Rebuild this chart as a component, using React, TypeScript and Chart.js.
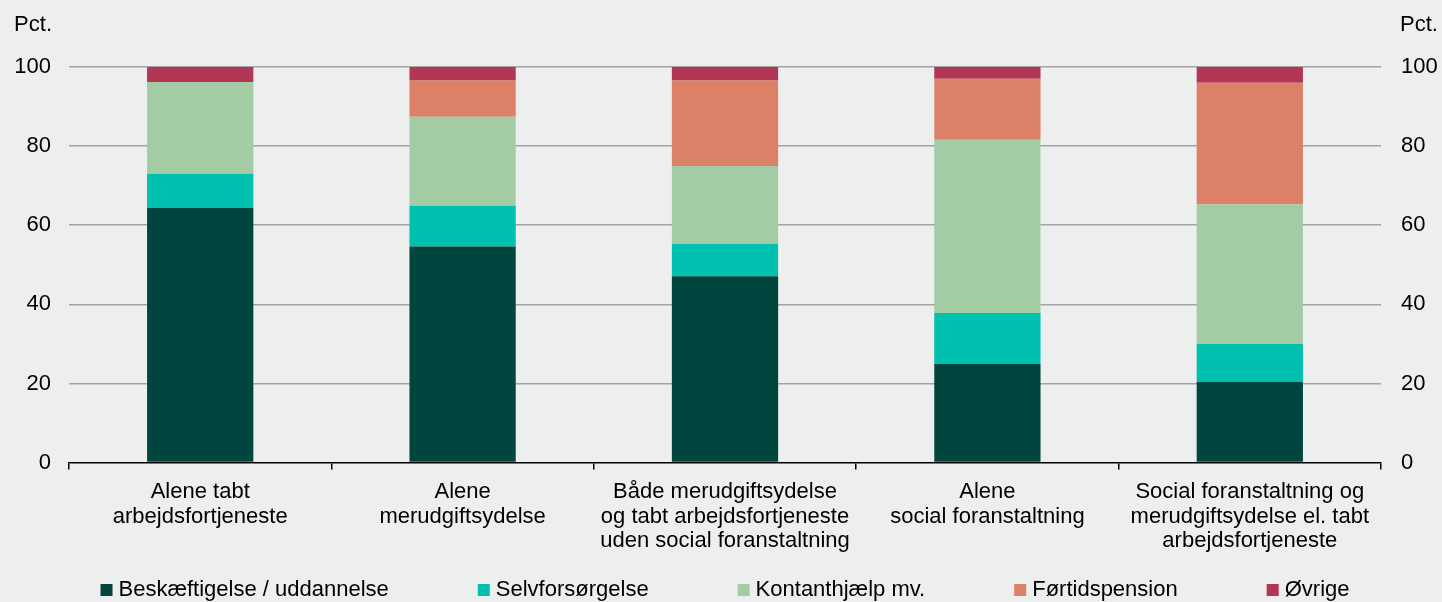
import React, { useEffect, useRef } from "react";
import { Chart, registerables } from "chart.js";

Chart.register(...registerables);

const categories: string[][] = [
  ["Alene tabt", "arbejdsfortjeneste"],
  ["Alene", "merudgiftsydelse"],
  ["Både merudgiftsydelse", "og tabt arbejdsfortjeneste", "uden social foranstaltning"],
  ["Alene", "social foranstaltning"],
  ["Social foranstaltning og", "merudgiftsydelse el. tabt", "arbejdsfortjeneste"],
];

const seriesNames = [
  "Beskæftigelse / uddannelse",
  "Selvforsørgelse",
  "Kontanthjælp mv.",
  "Førtidspension",
  "Øvrige",
];

const beskaeftigelse = [64.4, 54.6, 47.1, 25.0, 20.4];
const selvforsoergelse = [8.6, 10.3, 8.2, 12.8, 9.6];
const kontanthjaelp = [23.2, 22.5, 19.7, 43.8, 35.3];
const foertidspension = [0, 9.2, 21.6, 15.4, 30.7];
const oevrige = [3.8, 3.4, 3.4, 3.0, 4.0];

const yTicks = [0, 20, 40, 60, 80, 100];
const unitLabel = "Pct.";

const colors = ["#00463f", "#00c0b0", "#a3cca5", "#dc8167", "#b23656"];
const BG = "#edefee";
const FONT = "'Liberation Sans', Arial, sans-serif";
const FS = 22;

const extrasPlugin = {
  id: "extras",
  afterDraw(chart: any) {
    const { ctx, chartArea } = chart;
    ctx.save();
    ctx.font = `${FS}px ${FONT}`;
    ctx.fillStyle = "#000";
    ctx.textBaseline = "alphabetic";
    ctx.textAlign = "right";
    ctx.fillText(unitLabel, chartArea.left - 17, 31);
    ctx.textAlign = "left";
    ctx.fillText(unitLabel, chartArea.right + 19, 31);

    // legend
    const box = 12;
    const gapBox = 6;
    const gapItem = 89;
    const ds = chart.data.datasets;
    const widths = ds.map((d: any) => ctx.measureText(d.label).width);
    const total =
      widths.reduce((a: number, b: number) => a + b, 0) +
      ds.length * (box + gapBox) +
      (ds.length - 1) * gapItem;
    let x = (chartArea.left + chartArea.right) / 2 - total / 2;
    const yc = 590;
    ctx.textBaseline = "middle";
    ctx.textAlign = "left";
    ds.forEach((d: any, i: number) => {
      ctx.fillStyle = d.backgroundColor;
      ctx.fillRect(x, yc - box / 2, box, box);
      ctx.fillStyle = "#000";
      ctx.fillText(d.label, x + box + gapBox, yc);
      x += box + gapBox + widths[i] + gapItem;
    });
    ctx.restore();
  },
};

export default function App() {
  const ref = useRef<HTMLCanvasElement | null>(null);

  useEffect(() => {
    document.body.style.margin = "0";
    document.body.style.background = BG;
    if (!ref.current) return;
    const values = [beskaeftigelse, selvforsoergelse, kontanthjaelp, foertidspension, oevrige];
    const gridColor = (c: any) => (c.tick && c.tick.value === 0 ? "rgba(0,0,0,0)" : "#a3a3a3");
    const chart = new Chart(ref.current, {
      type: "bar",
      data: {
        labels: categories,
        datasets: values.map((v, i) => ({
          label: seriesNames[i],
          data: v,
          backgroundColor: colors[i],
          borderWidth: 0,
          categoryPercentage: 1,
          barPercentage: 0.405,
          yAxisID: "y",
        })),
      },
      options: {
        responsive: false,
        animation: false,
        layout: { padding: { top: 67, left: 0, right: 0, bottom: 38.5 } },
        plugins: {
          legend: { display: false },
          tooltip: { enabled: false },
        },
        scales: {
          x: {
            stacked: true,
            offset: true,
            grid: {
              display: true,
              drawOnChartArea: false,
              drawTicks: true,
              tickLength: 7,
              offset: true,
              color: "#000",
              lineWidth: 1.5,
            },
            border: { display: true, color: "#000", width: 1.5 },
            ticks: {
              color: "#000",
              font: { family: FONT, size: FS, lineHeight: 1.12 },
              padding: 10,
              maxRotation: 0,
              autoSkip: false,
            },
          },
          y: {
            stacked: true,
            position: "left",
            min: 0,
            max: 100,
            afterBuildTicks: (s: any) => {
              s.ticks = yTicks.map((v) => ({ value: v }));
            },
            afterFit: (s: any) => {
              s.width = 69;
            },
            grid: { color: gridColor, lineWidth: 1.5, drawTicks: false },
            border: { display: false },
            ticks: {
              color: "#000",
              font: { family: FONT, size: FS },
              padding: 18,
            },
          },
          y2: {
            position: "right",
            min: 0,
            max: 100,
            afterBuildTicks: (s: any) => {
              s.ticks = yTicks.map((v) => ({ value: v }));
            },
            afterFit: (s: any) => {
              s.width = 61;
            },
            grid: { drawOnChartArea: false, drawTicks: false },
            border: { display: false },
            ticks: {
              color: "#000",
              font: { family: FONT, size: FS },
              padding: 20,
            },
          },
        },
      },
      plugins: [extrasPlugin],
    } as any);
    return () => chart.destroy();
  }, []);

  return (
    <div style={{ position: "absolute", left: 0, top: 0, width: 1442, height: 602, background: BG }}>
      <canvas ref={ref} width={1442} height={602} style={{ display: "block" }} />
    </div>
  );
}
